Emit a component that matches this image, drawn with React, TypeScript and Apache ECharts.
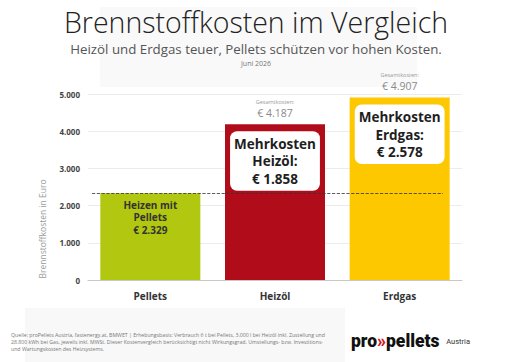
import React, { useEffect, useRef } from "react";
import * as echarts from "echarts";

const categories = ["Pellets", "Heizöl", "Erdgas"];
const totalCosts = [2329, 4187, 4907];
const extraCosts = [null, 1858, 2578];
const barColors = ["#b2c70f", "#b10c1a", "#fdc800"];
const yTicks = [0, 1000, 2000, 3000, 4000, 5000];
const footerLines = [
  "Quelle: proPellets Austria, fastenergy.at, BMWET | Erhebungsbasis: Verbrauch 6 t bei Pellets, 3.000 l bei Heizöl inkl. Zustellung und",
  "28.800 kWh bei Gas, jeweils inkl. MWSt. Dieser Kostenvergleich berücksichtigt nicht Wirkungsgrad, Umstellungs- bzw. Investitions-",
  "und Wartungskosten des Heizsystems.",
];

const FONT = "'Open Sans', 'Noto Sans', sans-serif";

const fmt = (n: number) => String(n).replace(/\B(?=(\d{3})+(?!\d))/g, ".");

export default function App() {
  const ref = useRef<HTMLDivElement>(null);
  useEffect(() => {
    if (!ref.current) return;
    const chart = echarts.init(ref.current, null, { renderer: "svg" });

    const mainData = totalCosts.map((v, i) => ({
      value: v,
      itemStyle: { color: barColors[i] },
      label:
        i === 0
          ? {
              show: true,
              position: "insideTop",
              distance: 5,
              formatter: `Heizen mit\nPellets\n€ ${fmt(v)}`,
              fontFamily: FONT,
              fontSize: 10,
              fontWeight: "bold",
              lineHeight: 12.5,
              color: "#333",
              align: "center",
            }
          : {
              show: true,
              position: "top",
              distance: 5,
              formatter: `{a|Gesamtkosten:}\n{b|€ ${fmt(v)}}`,
              rich: {
                a: { fontFamily: FONT, fontSize: 5.5, color: "#9a9a9a", lineHeight: 10, align: "center" },
                b: { fontFamily: FONT, fontSize: 10.5, color: "#8a8a8a", lineHeight: 12, align: "center" },
              },
            },
    }));

    const overlayData = extraCosts.map((e, i) => ({
      value: totalCosts[i],
      label:
        e == null
          ? { show: false }
          : {
              show: true,
              position: "insideTop",
              distance: 7,
              formatter: `Mehrkosten\n${categories[i]}:\n€ ${fmt(e)}`,
              fontFamily: FONT,
              fontSize: 13.5,
              fontWeight: "bold",
              lineHeight: 17.5,
              color: "#1e1e1e",
              align: "center",
              backgroundColor: "#ffffff",
              borderRadius: 7,
              padding: [4, 4, 3, 4],
            },
    }));

    const footerGraphics = footerLines.map((t, i) => ({
      type: "text",
      x: 11,
      y: 335 + i * 7.2,
      style: {
        text: t,
        fontFamily: FONT,
        fontSize: 5.2,
        lineHeight: 6,
        fill: "#777",
        textVerticalAlign: "middle",
      },
    }));

    const option: any = {
      animation: false,
      backgroundColor: "#ffffff",
      title: [
        {
          text: "Brennstoffkosten im Vergleich",
          left: "center",
          top: 2,
          textStyle: { fontFamily: FONT, fontSize: 28.5, lineHeight: 30, fontWeight: 300, color: "#222" },
        },
        {
          text: "Heizöl und Erdgas teuer, Pellets schützen vor hohen Kosten.",
          left: "center",
          top: 36,
          textStyle: { fontFamily: FONT, fontSize: 13.3, lineHeight: 15, fontWeight: 400, color: "#555" },
        },
        {
          text: "Juni 2026",
          left: "center",
          top: 54,
          textStyle: { fontFamily: FONT, fontSize: 7, lineHeight: 8, fontWeight: 400, color: "#777" },
        },
      ],
      grid: { left: 88, right: 50, top: 94, bottom: 82 },
      xAxis: {
        type: "category",
        data: categories,
        axisTick: { show: false },
        axisLine: { lineStyle: { color: "#c8c8c8", width: 1 } },
        axisLabel: { fontFamily: FONT, fontSize: 10, fontWeight: "bold", color: "#333", margin: 11 },
      },
      yAxis: {
        type: "value",
        min: 0,
        max: yTicks[yTicks.length - 1],
        interval: 1000,
        axisLabel: {
          fontFamily: FONT,
          fontSize: 8,
          fontWeight: "bold",
          color: "#444",
          margin: 8,
          formatter: (v: number) => fmt(v),
        },
        splitLine: { lineStyle: { color: "#ececec", width: 1 } },
      },
      graphic: [
        { type: "rect", z: -10, shape: { x: 100, y: 7, width: 317, height: 80 }, style: { fill: "#f9f9f9" } },
        { type: "rect", z: -10, shape: { x: 25, y: 308, width: 320, height: 54 }, style: { fill: "#f8f8f8" } },
        {
          type: "text",
          x: 42,
          y: 229,
          rotation: Math.PI / 2,
          style: {
            text: "Brennstoffkosten in Euro",
            fontFamily: FONT,
            fontSize: 8.5,
            fill: "#9a9a9a",
            textAlign: "center",
            textVerticalAlign: "middle",
          },
        },
        ...footerGraphics,
        {
          type: "text",
          x: 351,
          y: 341,
          style: {
            text: "{a|pro}{b|»}{a|pellets}  {c|Austria}",
            textVerticalAlign: "middle",
            rich: {
              a: { fontFamily: "Roboto, sans-serif", fontSize: 17.5, fontWeight: 900, fill: "#111" },
              b: { fontFamily: "Roboto, sans-serif", fontSize: 17.5, fontWeight: 900, fill: "#d4141c" },
              c: { fontFamily: "Roboto, sans-serif", fontSize: 7.5, fill: "#333" },
            },
          },
        },
      ],
      series: [
        {
          type: "bar",
          data: mainData,
          barWidth: 100,
          z: 2,
          markLine: {
            symbol: "none",
            silent: true,
            label: { show: false },
            lineStyle: { color: "#333", type: "dashed", width: 0.8 },
            data: [[{ yAxis: totalCosts[0] }, { yAxis: totalCosts[0] }]],
          },
        },
        {
          type: "bar",
          data: overlayData,
          barWidth: 100,
          barGap: "-100%",
          z: 3,
          itemStyle: { color: "rgba(0,0,0,0)" },
        },
      ],
    };
    chart.setOption(option);
    const py = chart.convertToPixel({ yAxisIndex: 0 }, totalCosts[0]) as number;
    chart.setOption({
      series: [
        {
          markLine: {
            data: [[{ x: 92, y: py }, { x: 443, y: py }]],
          },
        },
        {},
      ],
    });
    return () => chart.dispose();
  }, []);
  return <div ref={ref} style={{ position: "fixed", left: 0, top: 0, width: 512, height: 362 }} />;
}
